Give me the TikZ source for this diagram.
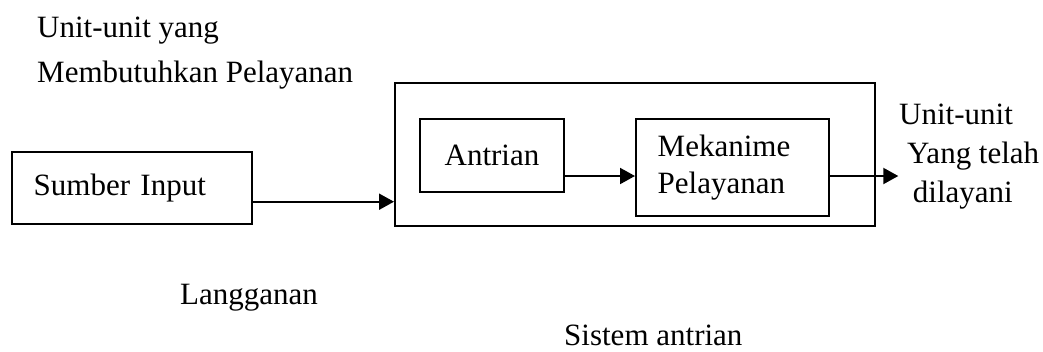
\documentclass[tikz,border=0pt]{standalone}
\usepackage{fontspec}
\setmainfont{Liberation Serif}
\usetikzlibrary{arrows.meta}
\begin{document}
\begin{tikzpicture}[x=1pt,y=-1pt,
  every node/.style={font=\fontsize{31}{37}\selectfont},
  blockbox/.style={draw, line width=2pt, rectangle, anchor=north west},
  label/.style={inner sep=0pt, anchor=base west},
  flow/.style={line width=2pt, -{Triangle[length=15pt,width=16pt]}}]
\useasboundingbox (0,0) rectangle (1043,351);

% captions above the source
\node[label] (t1) at (37,37) {Unit-unit yang};
\node[label] (t2) at (37,82) {Membutuhkan Pelayanan};

% input source
\node[blockbox, minimum width=240pt, minimum height=72pt, inner xsep=22pt,
      text width=196pt, align=left] (src) at (10.7,150.7) {\raisebox{-2pt}{Sumber Input}};

% queueing system frame
\node[blockbox, minimum width=480pt, minimum height=143.3pt] (sys) at (394,81.7) {};

% queue and service mechanism
\node[blockbox, minimum width=144.6pt, minimum height=72.4pt] (queue) at (418.7,118.3) {Antrian};
\node[blockbox, minimum width=192.7pt, minimum height=96.7pt, inner xsep=21.7pt,
      text width=149.3pt, align=left] (serv) at (635,118.3) {Mekanime\\Pelayanan};

% output labels
\node[label] (o1) at (899,124) {Unit-unit};
\node[label] (o2) at (907,163.3) {Yang telah};
\node[label] (o3) at (912.7,202.3) {dilayani};

% lower captions
\node[label] (cust) at (180,304) {Langganan};
\node[label] (sysname) at (564,345) {Sistem antrian};

% connectors
\coordinate (out) at (898.3,176);
\draw[flow] (src.east |- 0,201.7) -- (sys.west |- 0,201.7);
\draw[flow] (queue.east |- 0,176) -- (serv.west |- 0,176);
\draw[flow] (serv.east |- out) -- (out);
\end{tikzpicture}
\end{document}
